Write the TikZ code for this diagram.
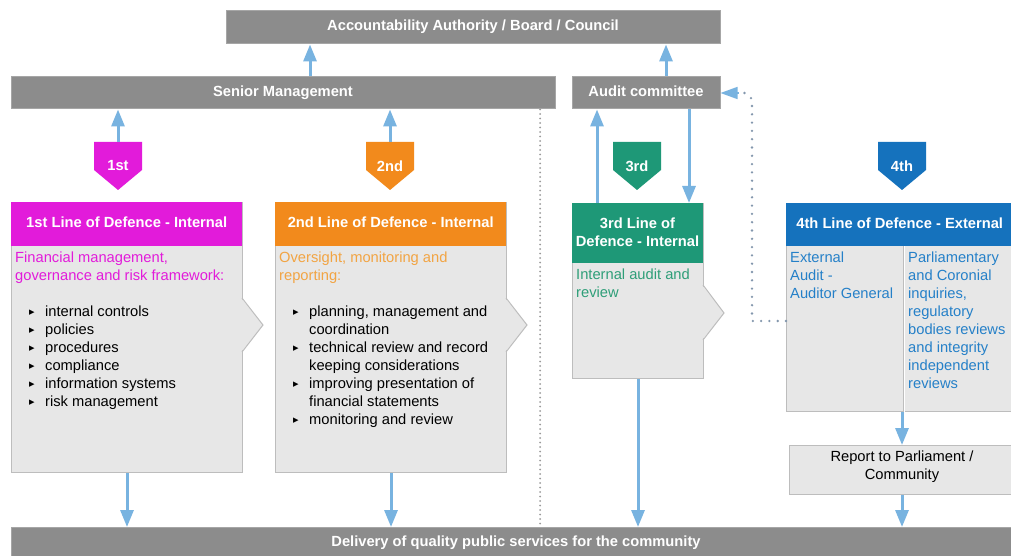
\documentclass[tikz,border=0pt]{standalone}
\usepackage{fontspec}
\setmainfont{Liberation Sans}
\newfontfamily\dejavu{DejaVu Sans}
\usetikzlibrary{arrows.meta,calc}
\definecolor{barg}{HTML}{8C8C8C}
\definecolor{barb}{HTML}{A6A6A6}
\definecolor{boxf}{HTML}{E7E7E7}
\definecolor{boxb}{HTML}{BDBDBD}
\definecolor{cmag}{HTML}{E21BDA}
\definecolor{corg}{HTML}{F28A1C}
\definecolor{corgt}{HTML}{F2A443}
\definecolor{cgrn}{HTML}{1E9877}
\definecolor{cgrnt}{HTML}{2E9E78}
\definecolor{cblu}{HTML}{1572BD}
\definecolor{cblut}{HTML}{2580C8}
\definecolor{arr}{HTML}{78B3E0}
\definecolor{dotb}{HTML}{8397AD}
\definecolor{dotg}{HTML}{9A9A9A}
\newcommand\fsz{\fontsize{14.7}{18}\selectfont}
\newcommand\bl{\makebox[16pt][l]{\raisebox{0.5pt}{\dejavu\fontsize{11}{11}\selectfont ▸}}}
\newcommand\ind{\hspace*{16pt}}
\newcommand\mybadge[4]{%
  \fill[#3] (#2-24,142) -- (#2+24,142) -- (#2+24,170) -- (#2,190) -- (#2-24,170) -- cycle;
  \node[badge] (#1) at (#2,166) {#4};}
\tikzset{
  bar/.style={fill=barg, draw=barb, line width=1pt, text=white, font=\bfseries\fsz, inner sep=0pt, text height=6.6pt, text depth=0pt},
  box/.style={fill=boxf, draw=boxb, line width=1pt, inner sep=0pt},
  hdr/.style={inner sep=0pt, text=white, font=\bfseries\fsz, align=center},
  hdrone/.style={hdr, text height=7.5pt, text depth=0pt},
  badge/.style={inner sep=0pt, minimum width=48pt, minimum height=48pt, text=white, font=\bfseries\fsz},
  body/.style={anchor=north west, inner sep=0pt, align=left, font=\fsz},
  flow/.style={line width=3pt, draw=arr, -{Triangle[width=13pt,length=17pt,fill=arr]}},
  dotsl/.style={line width=2pt, line cap=round, dash pattern=on 0pt off 4.5pt},
  dotsr/.style={line width=2.6pt, line cap=round, dash pattern=on 0pt off 8.3pt},
  notch/.style={draw=boxb, line width=1pt}
}
\begin{document}
\begin{tikzpicture}[x=1pt,y=-1pt]
\useasboundingbox (0,0) rectangle (1011,556);
\fill[white] (0,0) rectangle (1011,556);

% bars
\node[bar, minimum width=494pt, minimum height=33pt] (auth) at (473,27.5) {Accountability Authority / Board / Council};
\node[bar, minimum width=544pt, minimum height=32pt] (sm) at (283,93) {Senior Management};
\node[bar, minimum width=148pt, minimum height=32pt] (ac) at (646,93) {Audit committee};
\node[bar, minimum width=1004pt, minimum height=31pt, anchor=north west] (del) at (11,527) {};
\node[hdr, text height=6.6pt, text depth=0pt] (deltxt) at (516,543) {Delivery of quality public services for the community};

% separator
\coordinate (sep) at (540,0);
\draw[dotsl, dotg] (sm.south -| sep) -- (del.north -| sep);

% badges
\mybadge{b1}{118}{cmag}{1st}
\mybadge{b2}{390}{corg}{2nd}
\mybadge{b3}{637}{cgrn}{3rd}
\mybadge{b4}{902}{cblu}{4th}

% box 1
\node[box, minimum width=231pt, minimum height=270pt, anchor=north west] (l1) at (11,202) {};
\fill[boxf] (241,298) -- (263,325) -- (241,352) -- cycle;
\draw[notch] (242,298) -- (263,325) -- (242,352);
\node[hdrone, fill=cmag, minimum width=231pt, minimum height=44pt, anchor=north west] (h1) at (11,202) {1st Line of Defence - Internal};
\node[body, text=cmag] (s1) at (15,251.5) {Financial management,\\governance and risk framework:};
\node[body] (u1) at (29,305.5) {\bl internal controls\\\bl policies\\\bl procedures\\\bl compliance\\\bl information systems\\\bl risk management};

% box 2
\node[box, minimum width=231pt, minimum height=270pt, anchor=north west] (l2) at (275,202) {};
\fill[boxf] (505,298) -- (527,325) -- (505,352) -- cycle;
\draw[notch] (506,298) -- (527,325) -- (506,352);
\node[hdrone, fill=corg, minimum width=231pt, minimum height=44pt, anchor=north west] (h2) at (275,202) {2nd Line of Defence - Internal};
\node[body, text=corgt] (s2) at (279,251.5) {Oversight, monitoring and\\reporting:};
\node[body] (u2) at (293,305.5) {\bl planning, management and\\\ind coordination\\\bl technical review and record\\\ind keeping considerations\\\bl improving presentation of\\\ind financial statements\\\bl monitoring and review};

% box 3
\node[box, minimum width=131pt, minimum height=175pt, anchor=north west] (l3) at (572,203) {};
\fill[boxf] (702,285) -- (724,313) -- (702,340) -- cycle;
\draw[notch] (703,285) -- (724,313) -- (703,340);
\node[fill=cgrn, minimum width=131pt, minimum height=60pt, anchor=north west, inner sep=0pt] (h3) at (572,203) {};
\node[hdr] (h3txt) at (637.5,232) {3rd Line of\\Defence - Internal};
\node[body, text=cgrnt] (s3) at (576,268.5) {Internal audit and\\review};

% box 4
\node[box, minimum width=227pt, minimum height=208pt, anchor=north west] (l4) at (786,203) {};
\coordinate (div) at (903,0);
\draw[boxb, line width=1pt] (div |- 0,246) -- (div |- l4.south);
\draw[white, line width=1.2pt] ([xshift=1.5pt]div |- 0,246) -- ([xshift=1.5pt]div |- l4.south);
\node[hdrone, fill=cblu, minimum width=227pt, minimum height=43pt, anchor=north west] (h4) at (786,203) {4th Line of Defence - External};
\node[body, text=cblut] (s4a) at (790,251.5) {External\\Audit -\\Auditor General};
\node[body, text=cblut] (s4b) at (908,251.5) {Parliamentary\\and Coronial\\inquiries,\\regulatory\\bodies reviews\\and integrity\\independent\\reviews};

% report
\node[box, minimum width=224pt, minimum height=49pt, anchor=north west] (rep) at (789,445) {};
\node[inner sep=0pt, align=center, font=\fsz] (reptxt) at (902,467) {Report to Parliament /\\Community};

% flows
\coordinate (x310) at (310,0);
\coordinate (x666) at (666,0);
\coordinate (x597) at (597,0);
\coordinate (x689) at (689,0);
\coordinate (x902) at (902,0);
\draw[flow] (sm.north -| x310) -- (auth.south -| x310);
\draw[flow] (ac.north -| x666) -- (auth.south -| x666);
\draw[flow] (b1.north) -- (b1.north |- sm.south);
\draw[flow] (b2.north) -- (b2.north |- sm.south);
\draw[flow] (l3.north -| x597) -- (ac.south -| x597);
\draw[flow] (ac.south -| x689) -- (l3.north -| x689);
\draw[flow] (l1.south) -- (l1.south |- del.north);
\draw[flow] (l2.south) -- (l2.south |- del.north);
\draw[flow] (l3.south) -- (l3.south |- del.north);
\draw[flow] (l4.south -| x902) -- (rep.north -| x902);
\draw[flow] (rep.south -| x902) -- (del.north -| x902);

% dotted feedback to audit committee
\coordinate (d1) at (786,321);
\coordinate (d2) at (752,321);
\coordinate (d3) at (752,99);
\draw[dotsr, dotb] (d1) -- (d2) -- (d3) -- ([xshift=24pt]ac.east);
\draw[arr, line width=1.5pt, -{Triangle[width=12pt,length=17pt,fill=arr]}] ([xshift=18pt]ac.east) -- (ac.east);
\end{tikzpicture}
\end{document}
